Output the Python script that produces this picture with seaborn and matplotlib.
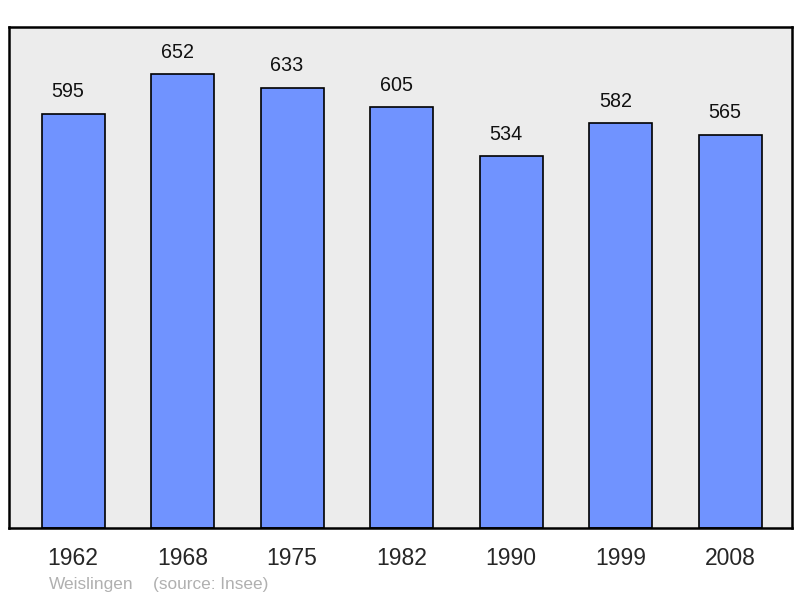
import pandas as pd
import seaborn as sns
import matplotlib.pyplot as plt

years = ["1962", "1968", "1975", "1982", "1990", "1999", "2008"]
population = [595, 652, 633, 605, 534, 582, 565]

df = pd.DataFrame({"year": years, "pop": population})

sns.set_style("white")
plt.rcParams['font.family'] = ['Liberation Sans', 'DejaVu Sans']

fig = plt.figure(figsize=(8, 5.98), dpi=100)
ax = fig.add_axes([9 / 800, 70 / 598, 783 / 800, 501 / 598])
ax.set_facecolor("#ececec")

sns.barplot(data=df, x="year", y="pop", color="#7093ff", saturation=1,
            width=0.575, edgecolor="black", linewidth=1.2, ax=ax)

# value labels sit a little left of the bar centres in the original
for i, v in enumerate(population):
    ax.annotate(str(v), (i, v), xytext=(-3.6, 9), textcoords="offset points",
                ha="center", va="bottom", fontsize=14.2, color="#111111")

ax.set_xlim(-0.585, 6.565)
ax.set_ylim(0, 720)
ax.set_yticks([])
ax.set_xlabel("")
ax.set_ylabel("")
ax.tick_params(axis="x", length=0, labelsize=16.5, pad=14)
for s in ax.spines.values():
    s.set_visible(True)
    s.set_color("black")
    s.set_linewidth(1.8)

fig.text(49 / 800, 1 - 585 / 598, "Weislingen", color="#b0b0b0", fontsize=12.4, va="center")
fig.text(153 / 800, 1 - 585 / 598, "(source: Insee)", color="#b0b0b0", fontsize=12.4, va="center")

fig.savefig("out.png", dpi=100)
